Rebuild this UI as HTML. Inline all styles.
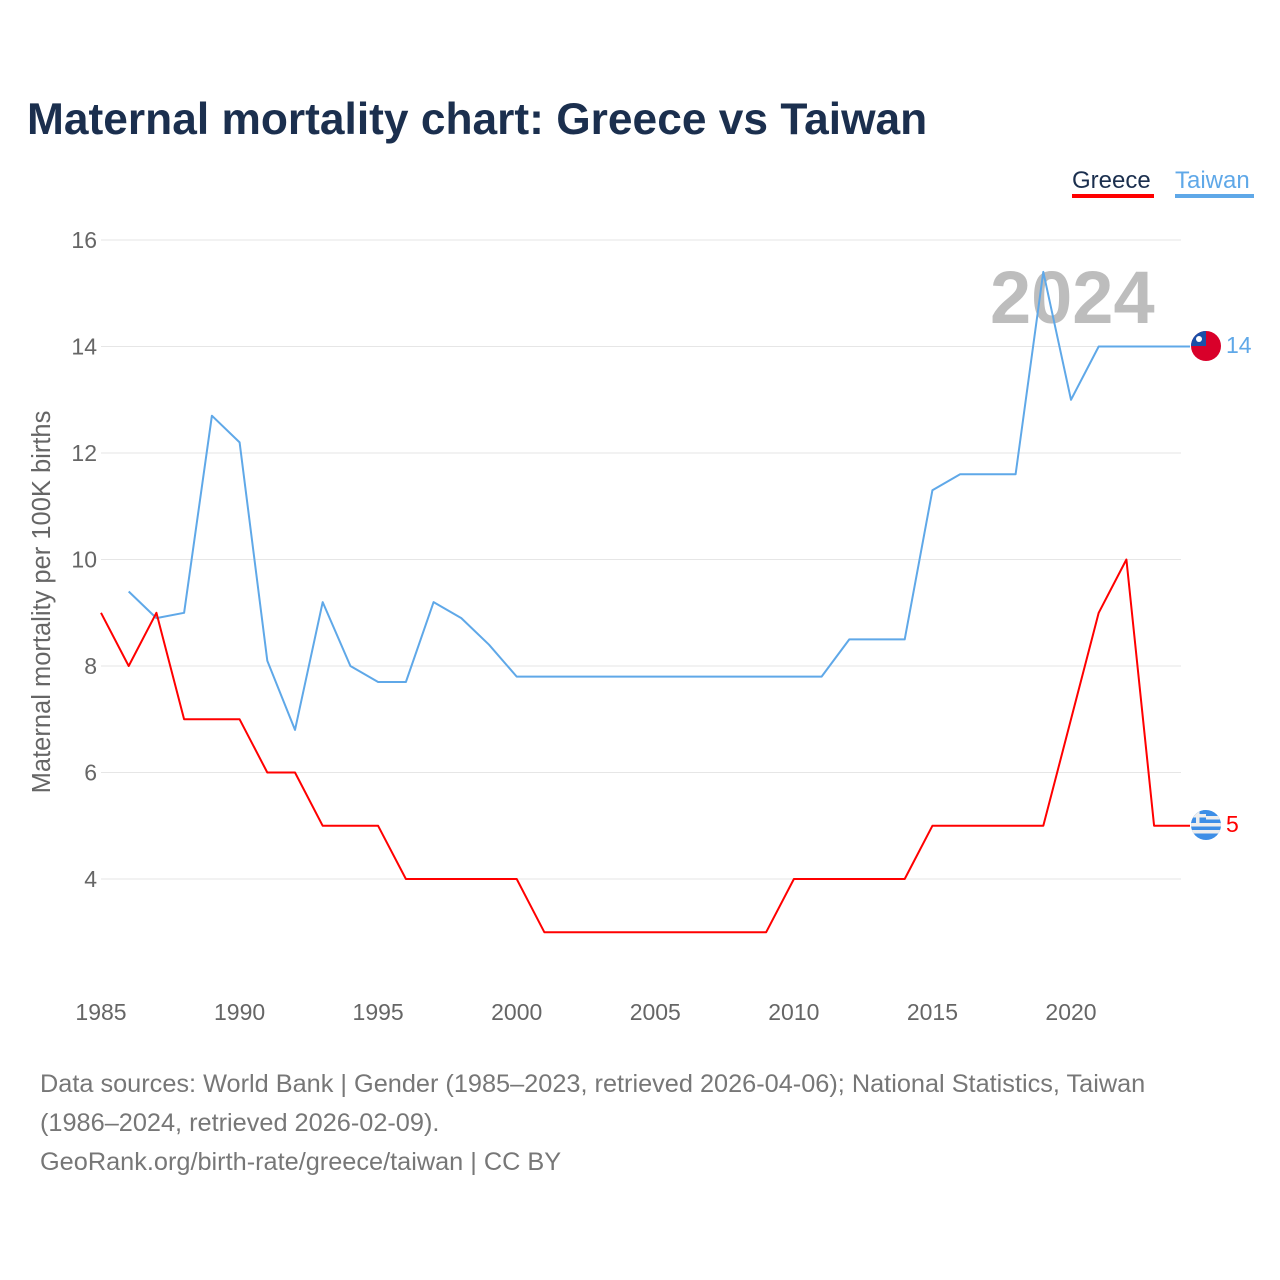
<!DOCTYPE html>
<html><head><meta charset="utf-8"><style>
body{margin:0;background:#fff;font-family:"Liberation Sans",sans-serif;}
svg{display:block}
</style></head><body>
<svg width="1280" height="1280" viewBox="0 0 1280 1280">
<text x="27" y="134" font-size="44.3" font-weight="bold" fill="#1b2f4e">Maternal mortality chart: Greece vs Taiwan</text>
<g>
<text x="1072" y="188" font-size="24" fill="#1b2f4e">Greece</text>
<rect x="1072" y="194" width="82" height="4" fill="#ff0000"/>
<text x="1175" y="188" font-size="24" fill="#5fa8e8">Taiwan</text>
<rect x="1175" y="194" width="79" height="4" fill="#5fa8e8"/>
</g>
<g id="grid"></g>
<g id="yticks"></g>
<g id="xticks"></g>
<text x="990" y="323" font-size="74" font-weight="bold" fill="#bdbdbd">2024</text>
<text transform="translate(50,602) rotate(-90)" text-anchor="middle" font-size="25.5" fill="#666">Maternal mortality per 100K births</text>
<g id="series"></g>
<g>
<clipPath id="c1"><circle cx="1206" cy="346" r="15"/></clipPath>
<g clip-path="url(#c1)"><rect x="1190" y="330" width="32" height="32" fill="#d9002a"/><rect x="1190" y="330" width="16" height="16" fill="#1a4fa8"/><circle cx="1199" cy="339" r="3" fill="#fff"/></g>
</g>
<g>
<clipPath id="c2"><circle cx="1206" cy="825" r="15"/></clipPath>
<g clip-path="url(#c2)"><rect x="1190" y="809" width="32" height="32" fill="#3d8ee6"/>
<rect x="1190" y="816" width="32" height="3.5" fill="#eee"/><rect x="1190" y="823" width="32" height="3.5" fill="#eee"/><rect x="1190" y="830" width="32" height="3.5" fill="#eee"/>
<rect x="1190" y="809" width="16" height="14" fill="#3d8ee6"/><rect x="1190" y="814" width="16" height="3.5" fill="#eee"/><rect x="1196" y="809" width="3.5" height="14" fill="#eee"/></g>
</g>
<text x="1226" y="353" font-size="23" fill="#5fa8e8">14</text>
<text x="1226" y="832" font-size="23" fill="#ff0000">5</text>
<g font-size="25.3" fill="#777">
<text x="40" y="1092">Data sources: World Bank | Gender (1985–2023, retrieved 2026-04-06); National Statistics, Taiwan</text>
<text x="40" y="1131">(1986–2024, retrieved 2026-02-09).</text>
<text x="40" y="1170">GeoRank.org/birth-rate/greece/taiwan | CC BY</text>
</g>
</svg>
<script>
const yTicks=[4,6,8,10,12,14,16];
const xTicks=[1985,1990,1995,2000,2005,2010,2015,2020];
const greeceYears=[1985,1986,1987,1988,1989,1990,1991,1992,1993,1994,1995,1996,1997,1998,1999,2000,2001,2002,2003,2004,2005,2006,2007,2008,2009,2010,2011,2012,2013,2014,2015,2016,2017,2018,2019,2020,2021,2022,2023];
const greeceVals=[9,8,9,7,7,7,6,6,5,5,5,4,4,4,4,4,3,3,3,3,3,3,3,3,3,4,4,4,4,4,5,5,5,5,5,7,9,10,5];
const taiwanYears=[1986,1987,1988,1989,1990,1991,1992,1993,1994,1995,1996,1997,1998,1999,2000,2001,2002,2003,2004,2005,2006,2007,2008,2009,2010,2011,2012,2013,2014,2015,2016,2017,2018,2019,2020,2021,2022,2023,2024];
const taiwanVals=[9.4,8.9,9.0,12.7,12.2,8.1,6.8,9.2,8.0,7.7,7.7,9.2,8.9,8.4,7.8,7.8,7.8,7.8,7.8,7.8,7.8,7.8,7.8,7.8,7.8,7.8,8.5,8.5,8.5,11.3,11.6,11.6,11.6,15.4,13.0,14,14,14,14];
const X=y=>101+(y-1985)*970/35;
const Y=v=>879-(v-4)*639/12;
const NS="http://www.w3.org/2000/svg";
function mk(t,a,p){const e=document.createElementNS(NS,t);for(const k in a)e.setAttribute(k,a[k]);document.getElementById(p).appendChild(e);return e;}
yTicks.forEach(v=>{
 const l=mk('line',{x1:101,x2:1181,y1:Y(v),y2:Y(v),stroke:'#e6e6e6','stroke-width':1},'grid');
 
 
 const t=mk('text',{x:97,y:Y(v)+8,'text-anchor':'end','font-size':23,fill:'#666'},'yticks');
 t.textContent=v;
 
 
});
xTicks.forEach(y=>{
 const t=mk('text',{x:X(y),y:1020,'text-anchor':'middle','font-size':23,fill:'#666'},'xticks');
 t.textContent=y;
 
 
});
function line(ys,vs,c,name){
 let d=ys.map((y,i)=>(i?'L':'M')+X(y).toFixed(1)+','+Y(vs[i]).toFixed(1)).join('');
 d+='L1190,'+Y(vs[vs.length-1]).toFixed(1);
 const p=mk('path',{d:d,fill:'none',stroke:c,'stroke-width':2,'stroke-linejoin':'round'},'series');
 
 
}
line(taiwanYears,taiwanVals,'#5fa8e8','taiwan-line');
line(greeceYears,greeceVals,'#ff0000','greece-line');
</script>
</body></html>
